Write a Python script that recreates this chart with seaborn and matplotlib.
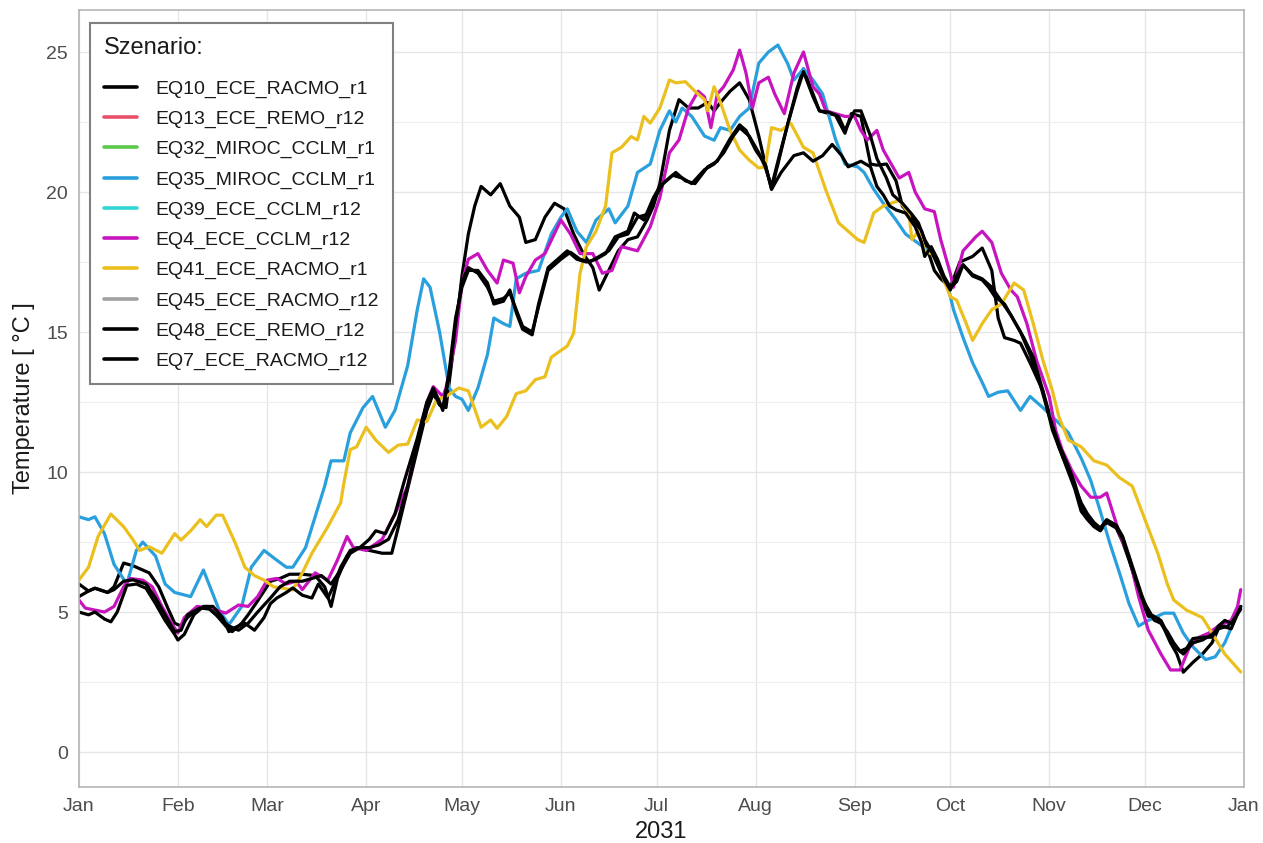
import matplotlib
matplotlib.use("Agg")
import matplotlib.pyplot as plt
import seaborn as sns
import pandas as pd
from matplotlib.lines import Line2D
from matplotlib.ticker import MultipleLocator, FixedLocator

# ---------------- data (day of year 2031, temperature in °C) ----------------
scenarios = ["EQ10_ECE_RACMO_r1", "EQ13_ECE_REMO_r12", "EQ32_MIROC_CCLM_r1",
             "EQ35_MIROC_CCLM_r1", "EQ39_ECE_CCLM_r12", "EQ4_ECE_CCLM_r12",
             "EQ41_ECE_RACMO_r1", "EQ45_ECE_RACMO_r12", "EQ48_ECE_REMO_r12",
             "EQ7_ECE_RACMO_r12"]
scenario_colors = ["#000000", "#E8506A", "#5DC94A", "#2A9FDD", "#33D6D6",
                   "#C814BE", "#EBC01E", "#A0A0A0", "#000000", "#000000"]

month_starts = [0, 31, 59, 90, 120, 151, 181, 212, 243, 273, 304, 334, 365]
month_labels = ["Jan", "Feb", "Mar", "Apr", "May", "Jun", "Jul", "Aug",
                "Sep", "Oct", "Nov", "Dec", "Jan"]

eq35_days = [0, 3, 5, 8, 11, 15, 18, 20, 24, 27, 30, 35, 39, 44, 47, 51, 54, 58, 62, 65,
             67, 71, 74, 77, 79, 83, 85, 89, 92, 96, 99, 103, 106, 108, 110, 113, 116, 118,
             120, 122, 125, 128, 130, 133, 135, 137, 140, 144, 148, 151, 153, 156, 159, 162,
             166, 168, 172, 175, 179, 182, 185, 187, 189, 192, 196, 199, 201, 204, 207, 210,
             213, 216, 219, 222, 224, 227, 230, 233, 237, 240, 244, 246, 249, 252, 256, 259,
             262, 265, 268, 270, 272, 274, 277, 280, 283, 285, 288, 291, 295, 298, 302, 307,
             310, 314, 317, 320, 323, 326, 329, 332, 335, 340, 343, 346, 349, 353, 356, 359,
             362, 364]
eq35_temp = [8.4, 8.3, 8.4, 7.8, 6.7, 6.0, 7.2, 7.5, 7.0, 6.0, 5.7, 5.55, 6.5, 5.05, 4.55,
             5.2, 6.6, 7.2, 6.85, 6.6, 6.6, 7.3, 8.4, 9.5, 10.4, 10.4, 11.4, 12.3, 12.7, 11.6,
             12.2, 13.8, 15.8, 16.9, 16.6, 15.0, 13.0, 12.7, 12.6, 12.2, 13.0, 14.2, 15.5,
             15.3, 15.2, 16.9, 17.1, 17.2, 18.5, 19.1, 19.4, 18.6, 18.2, 19.0, 19.4, 18.9,
             19.5, 20.7, 21.0, 22.2, 22.9, 22.5, 23.0, 22.7, 22.0, 21.85, 22.3, 22.2, 22.7,
             23.0, 24.6, 25.0, 25.25, 24.6, 24.0, 24.4, 24.0, 23.5, 21.9, 21.0, 20.9, 20.7,
             20.1, 19.6, 19.0, 18.5, 18.25, 18.0, 17.7, 17.2, 16.75, 15.8, 14.8, 13.9, 13.2,
             12.7, 12.85, 12.9, 12.2, 12.7, 12.3, 11.75, 11.4, 10.5, 9.7, 8.6, 7.45, 6.4, 5.3,
             4.5, 4.7, 4.96, 4.96, 4.25, 3.76, 3.3, 3.4, 3.9, 4.7, 5.2]

eq41_days = [0, 3, 6, 10, 14, 17, 19, 22, 26, 30, 32, 35, 38, 40, 43, 45, 49, 52, 55, 58,
             61, 64, 67, 70, 73, 78, 82, 83, 85, 87, 90, 93, 97, 100, 103, 106, 109, 112, 115,
             119, 122, 126, 129, 131, 134, 137, 140, 143, 146, 148, 153, 155, 157, 159, 162,
             165, 167, 170, 173, 175, 177, 179, 182, 185, 187, 190, 193, 196, 197, 199, 201,
             204, 207, 210, 213, 215, 217, 220, 223, 227, 230, 234, 238, 241, 244, 246, 249,
             252, 257, 260, 261, 263, 265, 268, 271, 273, 275, 278, 280, 283, 286, 289, 293,
             296, 299, 302, 305, 307, 310, 314, 318, 322, 326, 330, 334, 338, 341, 343, 347,
             352, 355, 359, 364]
eq41_temp = [6.14, 6.6, 7.7, 8.5, 8.05, 7.57, 7.2, 7.33, 7.1, 7.8, 7.57, 7.9, 8.3, 8.05,
             8.46, 8.46, 7.46, 6.6, 6.3, 6.14, 5.9, 5.85, 5.79, 6.4, 7.1, 8.05, 8.9, 9.6, 10.8,
             10.9, 11.6, 11.14, 10.7, 10.96, 11.0, 11.86, 11.8, 12.57, 12.7, 13.0, 12.9, 11.6,
             11.86, 11.56, 11.98, 12.8, 12.9, 13.3, 13.4, 14.1, 14.5, 14.96, 17.1, 18.05, 18.6,
             19.5, 21.4, 21.6, 21.98, 21.86, 22.7, 22.46, 23.0, 24.0, 23.9, 23.94, 23.6, 23.3,
             22.9, 23.76, 23.2, 22.2, 21.5, 21.14, 20.86, 20.9, 22.3, 22.2, 22.46, 21.6, 21.4,
             20.07, 18.9, 18.6, 18.3, 18.2, 19.25, 19.5, 19.7, 19.25, 18.3, 18.6, 17.9, 17.75,
             16.86, 16.26, 16.14, 15.3, 14.7, 15.3, 15.8, 16.0, 16.75, 16.5, 15.3, 14.0, 12.9,
             11.98, 11.14, 10.9, 10.4, 10.25, 9.8, 9.5, 8.3, 7.1, 6.0, 5.43, 5.07, 4.8, 4.25,
             3.5, 2.86]

eq4_days = [0, 2, 5, 8, 11, 14, 16, 20, 23, 26, 29, 31, 33, 37, 41, 46, 50, 53, 56, 59,
            62, 65, 68, 70, 74, 78, 81, 84, 86, 90, 95, 99, 103, 106, 109, 111, 114, 115, 118,
            120, 122, 125, 128, 131, 133, 136, 138, 140, 143, 146, 151, 154, 157, 161, 164,
            167, 170, 175, 179, 182, 185, 188, 191, 194, 196, 198, 200, 202, 205, 207, 209,
            211, 213, 216, 218, 221, 224, 227, 230, 232, 234, 237, 240, 243, 245, 247, 250,
            252, 257, 260, 262, 265, 268, 270, 273, 274, 277, 281, 283, 286, 289, 292, 294,
            297, 300, 304, 306, 308, 311, 314, 317, 320, 322, 326, 329, 332, 335, 339, 342,
            345, 348, 351, 354, 357, 361, 363, 364]
eq4_temp = [5.43, 5.14, 5.07, 5.0, 5.2, 5.9, 6.2, 6.14, 5.9, 5.2, 4.6, 4.25, 4.8, 5.2, 5.14,
            4.96, 5.25, 5.2, 5.55, 6.14, 6.2, 6.0, 6.1, 5.8, 6.4, 6.14, 6.86, 7.7, 7.3, 7.2,
            7.6, 8.5, 9.5, 11.1, 12.46, 13.05, 12.7, 13.0, 14.7, 16.75, 17.6, 17.8, 17.2,
            16.75, 17.57, 17.46, 16.4, 16.98, 17.57, 17.8, 19.0, 18.5, 17.8, 17.8, 17.1, 17.2,
            18.05, 17.9, 18.76, 19.8, 21.4, 21.86, 23.0, 23.6, 23.4, 22.3, 23.5, 23.76, 24.36,
            25.07, 24.25, 23.0, 23.9, 24.1, 23.5, 22.8, 24.25, 25.0, 23.76, 23.5, 22.9, 22.8,
            22.7, 22.7, 22.2, 21.86, 22.2, 21.5, 20.5, 20.7, 20.0, 19.4, 19.3, 18.3, 17.1,
            16.6, 17.9, 18.4, 18.6, 18.2, 17.1, 16.5, 16.26, 15.3, 14.0, 12.7, 11.5, 10.8,
            10.07, 9.5, 9.1, 9.1, 9.25, 7.8, 6.98, 5.55, 4.36, 3.5, 2.93, 2.93, 3.76, 4.1,
            4.25, 4.5, 4.7, 5.2, 5.8]

eq10_days = [0, 3, 5, 9, 11, 14, 17, 20, 22, 25, 28, 30, 32, 34, 37, 40, 43, 46, 48, 51,
             53, 56, 60, 63, 66, 70, 74, 77, 79, 81, 84, 87, 91, 95, 98, 100, 103, 106, 109,
             111, 113, 115, 116, 118, 120, 122, 124, 126, 129, 132, 135, 138, 140, 143, 146,
             149, 152, 155, 158, 161, 163, 166, 169, 172, 175, 178, 180, 182, 185, 188, 191,
             194, 197, 199, 201, 204, 207, 210, 213, 215, 217, 219, 222, 225, 227, 230, 232,
             235, 237, 240, 242, 245, 248, 250, 253, 256, 258, 261, 264, 266, 268, 270, 273,
             276, 280, 283, 286, 288, 290, 293, 295, 298, 302, 305, 307, 309, 312, 314, 316,
             318, 320, 322, 325, 327, 329, 331, 333, 335, 338, 340, 342, 344, 346, 349, 352,
             355, 357, 360, 362, 364]
eq10_temp = [6.0, 5.75, 5.85, 5.7, 5.9, 6.75, 6.65, 6.5, 6.4, 5.9, 5.1, 4.6, 4.5, 4.8, 5.1,
             5.2, 4.9, 4.5, 4.3, 4.6, 4.9, 5.4, 6.1, 6.2, 6.35, 6.35, 6.3, 5.9, 5.2, 6.2, 7.0,
             7.3, 7.2, 7.1, 7.1, 8.0, 9.4, 10.8, 12.2, 12.8, 12.4, 12.3, 13.2, 15.0, 17.0, 18.5,
             19.5, 20.2, 19.9, 20.3, 19.5, 19.1, 18.2, 18.3, 19.1, 19.6, 19.4, 18.5, 17.8, 17.3,
             16.5, 17.2, 17.9, 18.3, 18.4, 19.0, 19.5, 20.3, 22.2, 23.3, 23.0, 23.0, 23.2, 22.9,
             23.2, 23.6, 23.9, 23.3, 22.0, 21.0, 20.1, 21.0, 22.4, 23.7, 24.4, 23.5, 22.9, 22.8,
             22.75, 22.1, 22.8, 22.7, 21.0, 20.96, 21.0, 20.4, 19.5, 19.1, 18.6, 17.9, 17.2,
             16.9, 16.6, 17.5, 17.7, 18.0, 17.2, 15.5, 14.8, 14.7, 14.6, 13.9, 12.9, 11.7, 10.9,
             10.3, 9.4, 8.6, 8.3, 8.05, 7.9, 8.2, 8.0, 7.5, 6.86, 6.14, 5.43, 4.85, 4.8, 4.4,
             3.9, 3.5, 2.85, 3.2, 3.5, 3.9, 4.4, 4.5, 4.8, 5.2]

eq48_days = [0, 3, 5, 8, 10, 12, 15, 18, 21, 24, 27, 30, 31, 33, 36, 39, 42, 45, 47, 49,
             52, 55, 58, 60, 62, 65, 67, 70, 73, 75, 78, 80, 82, 85, 88, 91, 93, 96, 99, 102,
             106, 109, 111, 113, 114, 116, 118, 120, 122, 125, 128, 130, 133, 135, 137, 139,
             142, 144, 147, 151, 153, 156, 159, 162, 165, 168, 172, 174, 177, 180, 182, 185,
             187, 190, 193, 197, 200, 202, 204, 207, 209, 212, 215, 217, 220, 224, 227, 230,
             233, 236, 239, 241, 245, 248, 250, 252, 254, 256, 259, 262, 264, 265, 267, 269,
             271, 273, 275, 277, 280, 283, 285, 287, 290, 293, 296, 299, 302, 305, 307, 310,
             312, 314, 316, 318, 320, 322, 325, 327, 329, 331, 333, 335, 337, 339, 341, 343,
             345, 347, 349, 352, 355, 357, 359, 361, 364]
eq48_temp = [5.0, 4.9, 5.0, 4.75, 4.65, 5.0, 5.95, 6.0, 5.85, 5.3, 4.7, 4.2, 4.0, 4.2, 4.9,
             5.2, 5.2, 4.8, 4.3, 4.45, 4.6, 4.35, 4.8, 5.3, 5.5, 5.7, 5.86, 5.6, 5.5, 6.0, 5.5,
             6.0, 6.6, 7.2, 7.3, 7.6, 7.9, 7.8, 8.5, 9.7, 11.2, 12.5, 13.0, 12.5, 12.2, 13.6,
             15.5, 16.6, 17.2, 17.2, 16.75, 16.0, 16.1, 16.5, 15.7, 15.1, 14.9, 16.0, 17.3,
             17.7, 17.9, 17.6, 17.5, 17.6, 17.8, 18.4, 18.6, 19.25, 19.0, 19.8, 20.2, 20.5,
             20.7, 20.4, 20.3, 20.9, 21.1, 21.5, 21.9, 22.4, 22.2, 21.5, 21.0, 20.1, 20.7, 21.3,
             21.4, 21.1, 21.3, 21.7, 21.3, 20.9, 21.1, 20.9, 20.2, 19.9, 19.5, 19.36, 19.25,
             18.76, 18.2, 17.7, 18.05, 17.6, 17.0, 16.6, 16.8, 17.4, 17.0, 16.86, 16.6, 16.26,
             16.0, 15.4, 14.8, 14.1, 12.9, 11.5, 10.9, 10.1, 9.5, 8.9, 8.5, 8.2, 8.0, 8.3, 8.1,
             7.7, 7.0, 6.3, 5.6, 5.0, 4.7, 4.6, 4.3, 3.9, 3.6, 3.7, 4.05, 4.1, 4.1, 4.5, 4.7,
             4.6, 5.1]

eq7_days = [0, 3, 5, 9, 11, 14, 17, 21, 24, 27, 30, 32, 34, 38, 41, 44, 47, 50, 53, 56,
            60, 63, 66, 70, 73, 76, 79, 82, 85, 88, 91, 94, 97, 100, 103, 106, 109, 111, 113,
            114, 116, 118, 120, 122, 125, 128, 130, 133, 135, 137, 139, 142, 144, 147, 151,
            154, 157, 160, 163, 166, 169, 172, 175, 178, 181, 183, 186, 189, 192, 196, 199,
            202, 205, 207, 210, 213, 215, 217, 219, 222, 225, 227, 230, 232, 235, 238, 240,
            243, 245, 248, 250, 253, 255, 258, 261, 263, 265, 267, 269, 271, 273, 275, 277,
            280, 283, 286, 289, 292, 295, 298, 301, 304, 307, 310, 312, 314, 316, 318, 320,
            322, 325, 327, 329, 331, 333, 336, 339, 342, 344, 346, 349, 352, 355, 358, 361,
            364]
eq7_temp = [5.55, 5.75, 5.85, 5.7, 5.8, 6.1, 6.15, 6.0, 5.5, 4.9, 4.3, 4.35, 4.9, 5.15, 5.1,
            4.8, 4.5, 4.35, 4.6, 5.0, 5.5, 5.9, 6.1, 6.1, 6.2, 6.3, 6.0, 6.5, 7.1, 7.3, 7.3,
            7.4, 7.6, 8.3, 9.5, 11.0, 12.3, 12.9, 12.4, 12.3, 13.4, 15.3, 16.8, 17.3, 17.1,
            16.6, 16.1, 16.2, 16.4, 15.8, 15.2, 15.0, 15.9, 17.2, 17.6, 17.85, 17.6, 17.5,
            17.7, 17.9, 18.4, 18.5, 19.1, 19.2, 19.9, 20.3, 20.6, 20.5, 20.3, 20.8, 21.0, 21.4,
            22.0, 22.3, 22.0, 21.4, 20.9, 20.2, 21.1, 22.4, 23.6, 24.3, 23.4, 22.9, 22.85, 22.7,
            22.2, 22.9, 22.9, 22.0, 21.2, 20.5, 19.9, 19.6, 19.2, 18.9, 18.3, 17.9, 17.4, 16.9,
            16.5, 17.0, 17.4, 17.05, 16.9, 16.6, 16.1, 15.6, 15.0, 14.2, 13.2, 12.0, 11.0,
            10.2, 9.6, 8.8, 8.4, 8.1, 7.95, 8.25, 8.05, 7.6, 6.9, 6.2, 5.5, 4.9, 4.7, 4.0, 3.7,
            3.5, 3.9, 4.0, 4.2, 4.5, 4.4, 5.2]

# series that are drawn (others only appear in the legend, no visible data)
drawn = [("EQ10_ECE_RACMO_r1", eq10_days, eq10_temp),
         ("EQ35_MIROC_CCLM_r1", eq35_days, eq35_temp),
         ("EQ4_ECE_CCLM_r12", eq4_days, eq4_temp),
         ("EQ41_ECE_RACMO_r1", eq41_days, eq41_temp),
         ("EQ48_ECE_REMO_r12", eq48_days, eq48_temp),
         ("EQ7_ECE_RACMO_r12", eq7_days, eq7_temp)]

rows = []
for name, d, t in drawn:
    for di, ti in zip(d, t):
        rows.append({"scenario": name, "day": di, "temp": ti})
df = pd.DataFrame(rows)

palette = dict(zip(scenarios, scenario_colors))

# ---------------- plot ----------------
sns.set_theme(style="white")
plt.rcParams["font.family"] = ["Liberation Sans", "DejaVu Sans"]

fig = plt.figure(figsize=(12.63, 8.43), dpi=100)
ax = fig.add_axes([0.0625, 0.0664, 0.9224, 0.9217])

sns.lineplot(data=df, x="day", y="temp", hue="scenario",
             hue_order=[n for n, _, _ in drawn], palette=palette,
             estimator=None, sort=False, linewidth=2.3, legend=False, ax=ax)

ax.set_xlim(0, 365)
ax.set_ylim(-1.25, 26.5)
ax.xaxis.set_major_locator(FixedLocator(month_starts))
ax.set_xticklabels(month_labels)
ax.yaxis.set_major_locator(MultipleLocator(5))
ax.yaxis.set_minor_locator(MultipleLocator(2.5))

ax.grid(which="major", color="#E6E6E6", linewidth=1.0)
ax.grid(which="minor", axis="y", color="#EDEDED", linewidth=0.8)
ax.set_axisbelow(True)

for sp in ax.spines.values():
    sp.set_color("#B5B5B5")
    sp.set_linewidth(1.2)

ax.tick_params(axis="both", which="major", length=4, width=1.0, color="#B5B5B5",
               labelcolor="#4D4D4D", labelsize=14, pad=4)
ax.tick_params(axis="y", which="minor", length=0)

ax.set_xlabel("2031", fontsize=17, color="#1A1A1A", labelpad=4)
ax.set_ylabel("Temperature [ °C ]", fontsize=17, color="#1A1A1A", labelpad=8)

handles = [Line2D([0], [0], color=c, linewidth=2.6) for c in scenario_colors]
leg = ax.legend(handles, scenarios, title="Szenario:", loc="upper left",
                bbox_to_anchor=(0.0094, 0.983), borderaxespad=0, frameon=True,
                fancybox=False, edgecolor="#808080", facecolor="white", framealpha=1,
                fontsize=14, title_fontsize=17, handlelength=1.7, handletextpad=0.95,
                labelspacing=0.64, borderpad=0.72)
leg.get_frame().set_linewidth(1.5)
leg._legend_box.align = "left"
leg._legend_box.sep = 15
for t in leg.get_texts():
    t.set_color("#1A1A1A")
leg.get_title().set_color("#1A1A1A")

fig.savefig("out.png", dpi=100, facecolor="white")
